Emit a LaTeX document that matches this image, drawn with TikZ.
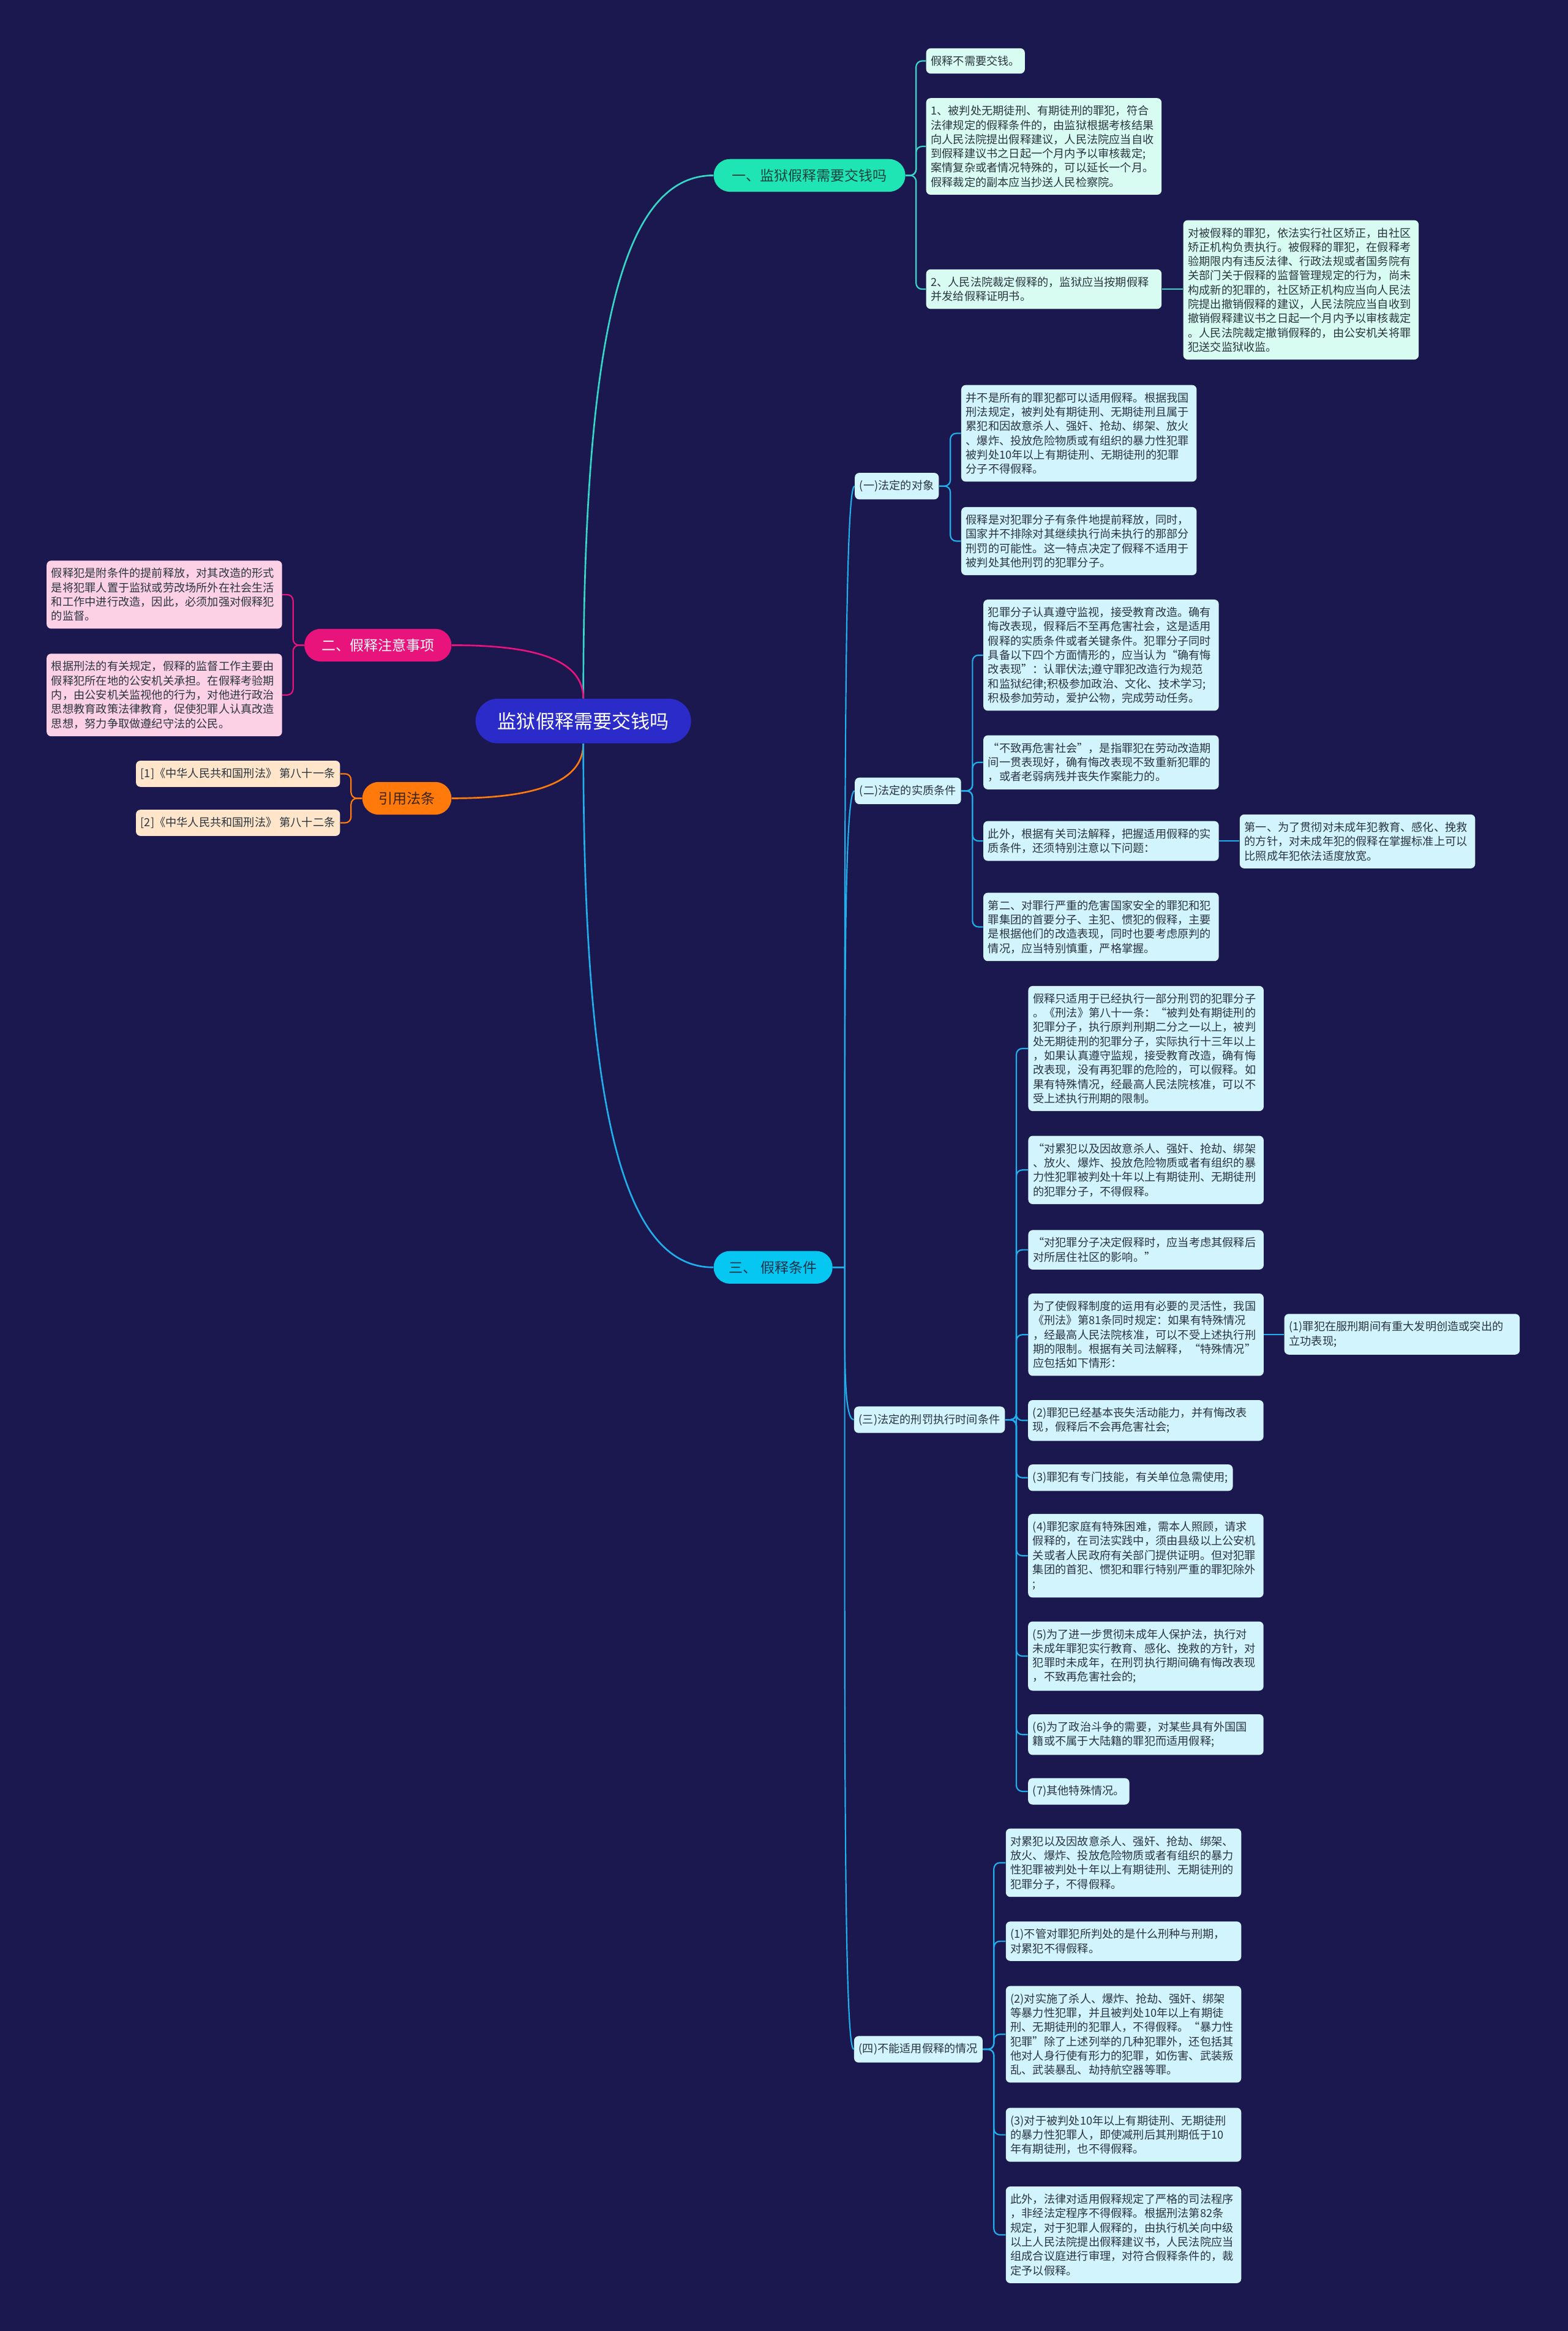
\documentclass[tikz,border=0pt]{standalone}
\usepackage{fontspec}
\setmainfont{Noto Sans CJK SC}
\definecolor{bg}{HTML}{1B1850}
\definecolor{rootc}{HTML}{2B2BC9}
\definecolor{tealc}{HTML}{1FE5B5}
\definecolor{tealt}{HTML}{17433F}
\definecolor{teall}{HTML}{35D8C6}
\definecolor{mint}{HTML}{D8FCF1}
\definecolor{pinkc}{HTML}{E9137C}
\definecolor{pinkl}{HTML}{FDD1E5}
\definecolor{orc}{HTML}{FF7A0A}
\definecolor{orct}{HTML}{3A2410}
\definecolor{orl}{HTML}{FFE6CA}
\definecolor{cyanc}{HTML}{06C6F2}
\definecolor{cyant}{HTML}{14324A}
\definecolor{cyanline}{HTML}{1FB0EC}
\definecolor{cyanl}{HTML}{D2F4FC}
\definecolor{ink}{HTML}{2A3540}
\begin{document}
\begin{tikzpicture}[x=1pt, y=-1pt,
  leaf/.style={rounded corners=3pt, inner xsep=3.2pt, inner ysep=5pt, align=left, text=ink, font=\fontsize{7.5}{9.6}\selectfont},
  wide/.style={leaf, text width=152pt},
  topic/.style={rounded corners=11pt, minimum height=22pt, inner sep=0pt, font=\fontsize{9.5}{11}\selectfont},
  link/.style={line width=0.9pt, rounded corners=4pt},
  bough/.style={line width=1.1pt}]
  \useasboundingbox[fill=bg] (0,0) rectangle (1055,1568);

  \node[topic, fill=rootc, text=white, minimum width=145pt, minimum height=30pt, rounded corners=15pt, font=\fontsize{12.8}{15}\selectfont] (root) at (392.5,485) {监狱假释需要交钱吗};
  \node[topic, fill=tealc, text=tealt, minimum width=129pt, anchor=west] (one) at (480,118) {一、监狱假释需要交钱吗};
  \node[topic, fill=pinkc, text=white, minimum width=99pt, anchor=east] (two) at (304,434) {二、假释注意事项};
  \node[topic, fill=orc, text=orct, minimum width=60pt, anchor=east] (cite) at (304,537) {引用法条};
  \node[topic, fill=cyanc, text=cyant, minimum width=80pt, anchor=west] (three) at (480,852.5) {三、 假释条件};

  \node[leaf, fill=mint, anchor=west] (oneA) at (623,41) {假释不需要交钱。};
  \node[wide, fill=mint, anchor=west] (oneB) at (623,98.5) {1、被判处无期徒刑、有期徒刑的罪犯，符合\\法律规定的假释条件的，由监狱根据考核结果\\向人民法院提出假释建议，人民法院应当自收\\到假释建议书之日起一个月内予以审核裁定;\\案情复杂或者情况特殊的，可以延长一个月。\\假释裁定的副本应当抄送人民检察院。};
  \node[wide, fill=mint, anchor=west] (oneC) at (623,194.5) {2、人民法院裁定假释的，监狱应当按期假释\\并发给假释证明书。};
  \node[wide, fill=mint, anchor=west] (oneD) at (796,195) {对被假释的罪犯，依法实行社区矫正，由社区\\矫正机构负责执行。被假释的罪犯，在假释考\\验期限内有违反法律、行政法规或者国务院有\\关部门关于假释的监督管理规定的行为，尚未\\构成新的犯罪的，社区矫正机构应当向人民法\\院提出撤销假释的建议，人民法院应当自收到\\撤销假释建议书之日起一个月内予以审核裁定\\。人民法院裁定撤销假释的，由公安机关将罪\\犯送交监狱收监。};

  \node[wide, fill=pinkl, anchor=east] (twoA) at (190,400) {假释犯是附条件的提前释放，对其改造的形式\\是将犯罪人置于监狱或劳改场所外在社会生活\\和工作中进行改造，因此，必须加强对假释犯\\的监督。};
  \node[wide, fill=pinkl, anchor=east] (twoB) at (190,467.5) {根据刑法的有关规定，假释的监督工作主要由\\假释犯所在地的公安机关承担。在假释考验期\\内，由公安机关监视他的行为，对他进行政治\\思想教育政策法律教育，促使犯罪人认真改造\\思想，努力争取做遵纪守法的公民。};

  \node[leaf, fill=orl, anchor=east] (citeA) at (229,520.5) {[1]《中华人民共和国刑法》 第八十一条};
  \node[leaf, fill=orl, anchor=east] (citeB) at (229,553.5) {[2]《中华人民共和国刑法》 第八十二条};

  \node[leaf, fill=cyanl, anchor=west] (obj) at (575,327) {(一)法定的对象};
  \node[leaf, fill=cyanl, anchor=west] (subst) at (575,532) {(二)法定的实质条件};
  \node[leaf, fill=cyanl, anchor=west] (time) at (574.5,955) {(三)法定的刑罚执行时间条件};
  \node[leaf, fill=cyanl, anchor=west] (exc) at (574.5,1378.5) {(四)不能适用假释的情况};

  \node[wide, fill=cyanl, anchor=west] (objA) at (646.6,291.5) {并不是所有的罪犯都可以适用假释。根据我国\\刑法规定，被判处有期徒刑、无期徒刑且属于\\累犯和因故意杀人、强奸、抢劫、绑架、放火\\、爆炸、投放危险物质或有组织的暴力性犯罪\\被判处10年以上有期徒刑、无期徒刑的犯罪\\分子不得假释。};
  \node[wide, fill=cyanl, anchor=west] (objB) at (646.6,364) {假释是对犯罪分子有条件地提前释放，同时，\\国家并不排除对其继续执行尚未执行的那部分\\刑罚的可能性。这一特点决定了假释不适用于\\被判处其他刑罚的犯罪分子。};

  \node[wide, fill=cyanl, anchor=west] (substA) at (661.5,440.7) {犯罪分子认真遵守监视，接受教育改造。确有\\悔改表现，假释后不至再危害社会，这是适用\\假释的实质条件或者关键条件。犯罪分子同时\\具备以下四个方面情形的，应当认为“确有悔\\改表现”：认罪伏法;遵守罪犯改造行为规范\\和监狱纪律;积极参加政治、文化、技术学习;\\积极参加劳动，爱护公物，完成劳动任务。};
  \node[wide, fill=cyanl, anchor=west] (substB) at (661.5,512.8) {“不致再危害社会”，是指罪犯在劳动改造期\\间一贯表现好，确有悔改表现不致重新犯罪的\\，或者老弱病残并丧失作案能力的。};
  \node[wide, fill=cyanl, anchor=west] (substC) at (661.5,565.7) {此外，根据有关司法解释，把握适用假释的实\\质条件，还须特别注意以下问题：};
  \node[wide, fill=cyanl, anchor=west] (substE) at (834,566) {第一、为了贯彻对未成年犯教育、感化、挽救\\的方针，对未成年犯的假释在掌握标准上可以\\比照成年犯依法适度放宽。};
  \node[wide, fill=cyanl, anchor=west] (substD) at (661.5,623.5) {第二、对罪行严重的危害国家安全的罪犯和犯\\罪集团的首要分子、主犯、惯犯的假释，主要\\是根据他们的改造表现，同时也要考虑原判的\\情况，应当特别慎重，严格掌握。};

  \node[wide, fill=cyanl, anchor=west] (timeA) at (691.7,705.3) {假释只适用于已经执行一部分刑罚的犯罪分子\\。《刑法》第八十一条：“被判处有期徒刑的\\犯罪分子，执行原判刑期二分之一以上，被判\\处无期徒刑的犯罪分子，实际执行十三年以上\\，如果认真遵守监规，接受教育改造，确有悔\\改表现，没有再犯罪的危险的，可以假释。如\\果有特殊情况，经最高人民法院核准，可以不\\受上述执行刑期的限制。};
  \node[wide, fill=cyanl, anchor=west] (timeB) at (691.7,787) {“对累犯以及因故意杀人、强奸、抢劫、绑架\\、放火、爆炸、投放危险物质或者有组织的暴\\力性犯罪被判处十年以上有期徒刑、无期徒刑\\的犯罪分子，不得假释。};
  \node[wide, fill=cyanl, anchor=west] (timeC) at (691.7,840.7) {“对犯罪分子决定假释时，应当考虑其假释后\\对所居住社区的影响。”};
  \node[wide, fill=cyanl, anchor=west] (timeD) at (691.7,897.8) {为了使假释制度的运用有必要的灵活性，我国\\《刑法》第81条同时规定：如果有特殊情况\\，经最高人民法院核准，可以不受上述执行刑\\期的限制。根据有关司法解释，“特殊情况”\\应包括如下情形：};
  \node[wide, fill=cyanl, anchor=west] (timeX) at (864,897.5) {(1)罪犯在服刑期间有重大发明创造或突出的\\立功表现;};
  \node[wide, fill=cyanl, anchor=west] (timeE) at (691.6,955.5) {(2)罪犯已经基本丧失活动能力，并有悔改表\\现，假释后不会再危害社会;};
  \node[leaf, fill=cyanl, anchor=west] (timeF) at (691.6,994) {(3)罪犯有专门技能，有关单位急需使用;};
  \node[wide, fill=cyanl, anchor=west] (timeG) at (691.6,1046.5) {(4)罪犯家庭有特殊困难，需本人照顾，请求\\假释的，在司法实践中，须由县级以上公安机\\关或者人民政府有关部门提供证明。但对犯罪\\集团的首犯、惯犯和罪行特别严重的罪犯除外\\;};
  \node[wide, fill=cyanl, anchor=west] (timeH) at (691.6,1114) {(5)为了进一步贯彻未成年人保护法，执行对\\未成年罪犯实行教育、感化、挽救的方针，对\\犯罪时未成年，在刑罚执行期间确有悔改表现\\，不致再危害社会的;};
  \node[wide, fill=cyanl, anchor=west] (timeI) at (691.6,1166.8) {(6)为了政治斗争的需要，对某些具有外国国\\籍或不属于大陆籍的罪犯而适用假释;};
  \node[leaf, fill=cyanl, anchor=west] (timeJ) at (691.6,1205) {(7)其他特殊情况。};

  \node[wide, fill=cyanl, anchor=west] (excA) at (676.6,1253) {对累犯以及因故意杀人、强奸、抢劫、绑架、\\放火、爆炸、投放危险物质或者有组织的暴力\\性犯罪被判处十年以上有期徒刑、无期徒刑的\\犯罪分子，不得假释。};
  \node[wide, fill=cyanl, anchor=west] (excB) at (676.6,1305.8) {(1)不管对罪犯所判处的是什么刑种与刑期，\\对累犯不得假释。};
  \node[wide, fill=cyanl, anchor=west] (excC) at (676.6,1368.4) {(2)对实施了杀人、爆炸、抢劫、强奸、绑架\\等暴力性犯罪，并且被判处10年以上有期徒\\刑、无期徒刑的犯罪人，不得假释。“暴力性\\犯罪”除了上述列举的几种犯罪外，还包括其\\他对人身行使有形力的犯罪，如伤害、武装叛\\乱、武装暴乱、劫持航空器等罪。};
  \node[wide, fill=cyanl, anchor=west] (excD) at (676.6,1436) {(3)对于被判处10年以上有期徒刑、无期徒刑\\的暴力性犯罪人，即使减刑后其刑期低于10\\年有期徒刑，也不得假释。};
  \node[wide, fill=cyanl, anchor=west] (excE) at (676.6,1503.3) {此外，法律对适用假释规定了严格的司法程序\\，非经法定程序不得假释。根据刑法第82条\\规定，对于犯罪人假释的，由执行机关向中级\\以上人民法院提出假释建议书，人民法院应当\\组成合议庭进行审理，对符合假释条件的，裁\\定予以假释。};

  \draw[bough, teall] (root.north) .. controls +(0,-250) and +(-60,0) .. (one.west);
  \draw[bough, pinkc] (root.north) .. controls +(0,-30) and +(45,0) .. (two.east);
  \draw[bough, orc] (root.south) .. controls +(0,30) and +(45,0) .. (cite.east);
  \draw[bough, cyanline] (root.south) .. controls +(0,250) and +(-60,0) .. (three.west);

  \foreach \c in {oneA,oneB,oneC} \draw[link, teall] (one.east) -- ++(7,0) |- (\c.west);
  \draw[link, teall] (oneC.east) -- (oneC.east -| oneD.west);
  \foreach \c in {twoA,twoB} \draw[link, pinkc] (two.west) -- ++(-7.4,0) |- (\c.east);
  \foreach \c in {citeA,citeB} \draw[link, orc] (cite.west) -- ++(-7.4,0) |- (\c.east);
  \foreach \c/\d in {obj/-290,subst/-176,time/57,exc/290}
    \draw[line width=0.9pt, cyanline] (three.east) -- ++(8,0) .. controls +(0,\d) and +(-7,0) .. (\c.west);
  \foreach \c in {objA,objB} \draw[link, cyanline] (obj.east) -- ++(7.6,0) |- (\c.west);
  \foreach \c in {substA,substB,substC,substD} \draw[link, cyanline] (subst.east) -- ++(7.5,0) |- (\c.west);
  \draw[link, cyanline] (substC.east) -- (substC.east -| substE.west);
  \foreach \c in {timeA,timeB,timeC,timeD,timeE,timeF,timeG,timeH,timeI,timeJ} \draw[link, cyanline] (time.east) -- ++(7.5,0) |- (\c.west);
  \draw[link, cyanline] (timeD.east) -- (timeD.east -| timeX.west);
  \foreach \c in {excA,excB,excC,excD,excE} \draw[link, cyanline] (exc.east) -- ++(7.4,0) |- (\c.west);
\end{tikzpicture}
\end{document}
